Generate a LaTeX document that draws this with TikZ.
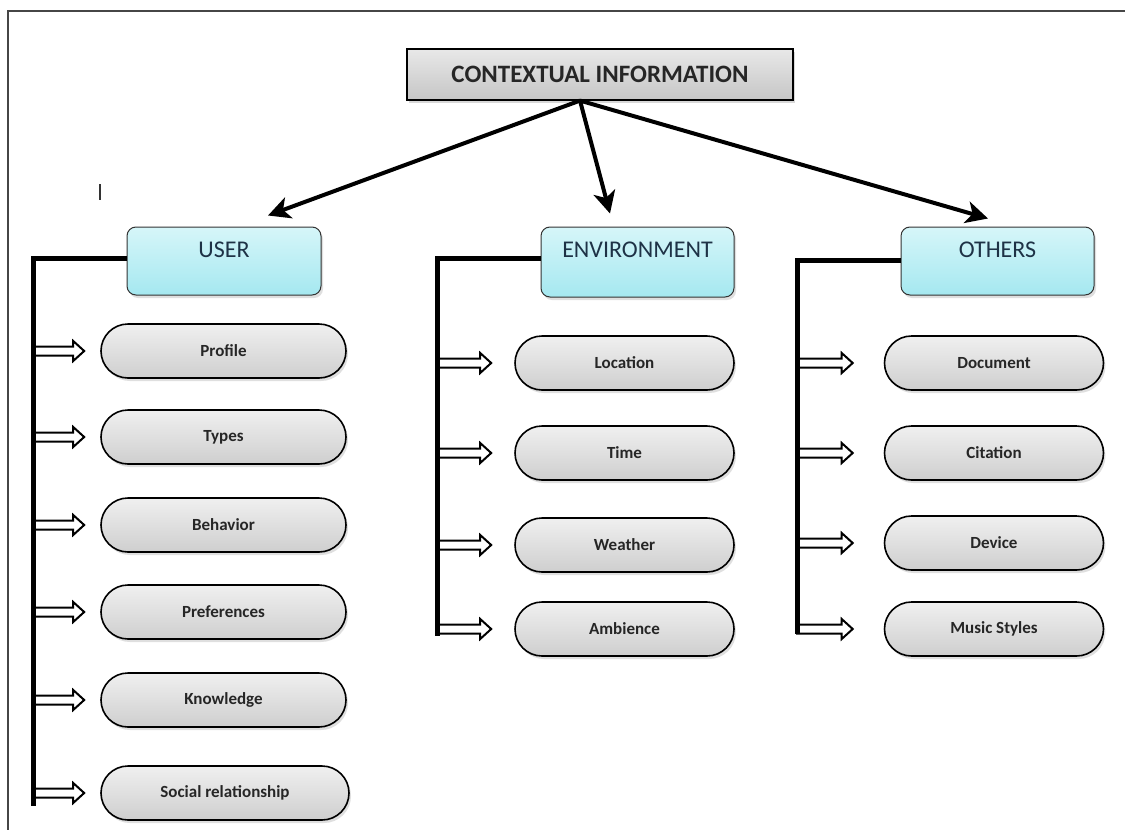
\documentclass[tikz,border=0pt]{standalone}
\usepackage{fontspec}
\setmainfont{Carlito}
\usetikzlibrary{arrows.meta,shapes.misc,shadows,calc}

\definecolor{catlight}{RGB}{214,246,249}
\definecolor{catcyan}{RGB}{165,232,240}
\definecolor{cattxt}{RGB}{30,50,70}
\definecolor{framegray}{RGB}{70,70,70}

\begin{document}
\begin{tikzpicture}[x=1pt,y=-1pt,
  headbox/.style={draw=black, line width=1.2pt, top color=gray!18, bottom color=gray!45,
    minimum width=386pt, minimum height=51pt, inner sep=0pt,
    font=\bfseries\fontsize{25}{29}\selectfont, text=black!85,
    drop shadow={opacity=0.3, shadow xshift=2pt, shadow yshift=-3pt}},
  catbox/.style={draw=black!80, line width=1pt, rounded corners=9pt,
    top color=catlight, bottom color=catcyan, minimum width=194pt, minimum height=68pt,
    inner sep=0pt, drop shadow={opacity=0.25, shadow xshift=2pt, shadow yshift=-3pt}},
  cattext/.style={font=\fontsize{24}{28}\selectfont, text=cattxt, inner sep=0pt},
  pill/.style={rounded rectangle, draw=black, line width=1.6pt,
    top color=gray!12, bottom color=gray!38, minimum height=54pt, inner sep=0pt,
    font=\bfseries\fontsize{17}{20}\selectfont, text=black!85,
    drop shadow={opacity=0.25, shadow xshift=2pt, shadow yshift=-3pt}},
  upill/.style={pill, minimum width=245pt},
  epill/.style={pill, minimum width=219pt},
  bigarrow/.style={line width=4pt, -{Stealth[length=22pt, width=22pt, inset=6pt]}},
  bracket/.style={line width=5pt, line join=miter},
  % outlined block arrow from the start point to the target point
  hollow/.style={draw=black, fill=white, line width=2pt, line join=miter,
    to path={let \p1=(\tikztostart), \p2=(\tikztotarget) in
      (\x1,\y1+4.5pt) -- (\x2-11pt,\y1+4.5pt) -- (\x2-11pt,\y1+10pt) -- (\x2,\y1)
      -- (\x2-11pt,\y1-10pt) -- (\x2-11pt,\y1-4.5pt) -- (\x1,\y1-4.5pt) -- cycle}},
]
\useasboundingbox (0,0) rectangle (1125,830);
\fill[white] (0,0) rectangle (1125,830);

% frame edges
\draw[framegray, line width=2pt] (8,830) -- (8,11) -- (1125,11);
% small stray tick
\draw[black!80, line width=1.2pt] (100,184) -- (100,200);

% top node
\node[headbox] (top) at (600,74.5) {CONTEXTUAL INFORMATION};

% category boxes
\node[catbox] (user) at (224,261) {};
\node[catbox, minimum height=70pt, minimum width=193pt] (env) at (637.5,262) {};
\node[catbox, minimum width=193pt] (oth) at (997.5,261) {};
\node[cattext] at ([yshift=-23pt]user.north) {USER};
\node[cattext] at ([yshift=-23pt]env.north) {ENVIRONMENT};
\node[cattext] at ([yshift=-23pt]oth.north) {OTHERS};

% arrows from the top node
\coordinate (src) at ([xshift=-20pt]top.south);
\draw[bigarrow] (src) -- ([xshift=44pt,yshift=11pt]user.north);
\draw[bigarrow] (src) -- ([xshift=-27.5pt,yshift=13pt]env.north);
\draw[bigarrow] (src) -- ([xshift=-9.5pt,yshift=8pt]oth.north);

% user items
\node[upill] (u1) at (223.5,351) {Profile};
\node[upill] (u2) at (223.5,437) {Types};
\node[upill] (u3) at (223.5,525) {Behavior};
\node[upill] (u4) at (223.5,612) {Preferences};
\node[upill] (u5) at (223.5,700) {Knowledge};
\node[upill, minimum width=248pt] (u6) at (225,793) {Social relationship};

% environment items
\node[epill] (e1) at (624.5,363) {Location};
\node[epill] (e2) at (624.5,453) {Time};
\node[epill] (e3) at (624.5,545) {Weather};
\node[epill] (e4) at (624.5,629) {Ambience};

% other items
\node[epill] (o1) at (994,363) {Document};
\node[epill] (o2) at (994,453) {Citation};
\node[epill] (o3) at (994,543) {Device};
\node[epill] (o4) at (994,629) {Music Styles};

% bracket bottoms
\coordinate (ubot) at (33,806);
\coordinate (ebot) at (437.5,636);
\coordinate (obot) at (797,634);

% hollow arrows into the items
\foreach \p in {u1,u2,u3,u4,u5,u6}
  \draw[hollow] (ubot |- \p.west) to ([xshift=-16pt]\p.west);
\foreach \p in {e1,e2,e3,e4}
  \draw[hollow] (ebot |- \p.west) to ([xshift=-23pt]\p.west);
\foreach \p in {o1,o2,o3,o4}
  \draw[hollow] (obot |- \p.west) to ([xshift=-31pt]\p.west);

% brackets
\draw[bracket] ([yshift=3pt]user.west) -| (ubot);
\draw[bracket] ([yshift=3.5pt]env.west) -| (ebot);
\draw[bracket] ([yshift=1pt]oth.west) -| (obot);
\end{tikzpicture}
\end{document}
